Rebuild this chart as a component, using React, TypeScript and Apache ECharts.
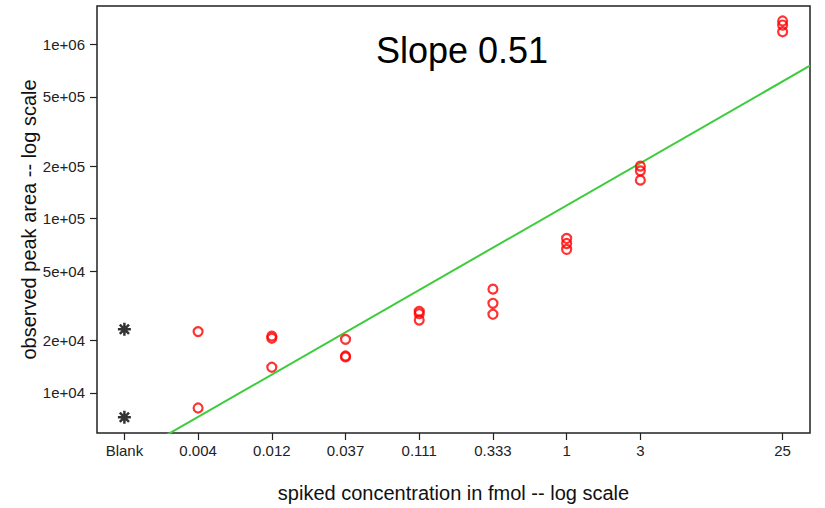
import React, { useEffect, useRef } from "react";
import * as echarts from "echarts";

// x categories (label) and their concentration positions (fmol); Blank is placed one 3-fold step left of 0.004
const xLabels = ["Blank", "0.004", "0.012", "0.037", "0.111", "0.333", "1", "3", "25"];
const xConc = [0.001372, 0.004115, 0.012346, 0.037037, 0.111111, 0.333333, 1, 3, 25];

// y tick labels
const yTickValues = [1e4, 2e4, 5e4, 1e5, 2e5, 5e5, 1e6];
const yTickLabels = ["1e+04", "2e+04", "5e+04", "1e+05", "2e+05", "5e+05", "1e+06"];

// observations
const blankValues = [23200, 7250];
const spiked004 = [22500, 8200];
const spiked012 = [21200, 20600, 14050];
const spiked037 = [20300, 16300, 16100];
const spiked111 = [29400, 28500, 26200];
const spiked333 = [39400, 32700, 28300];
const spiked1 = [77000, 72000, 66600];
const spiked3 = [200000, 188000, 166300];
const spiked25 = [1361000, 1290000, 1181000];
const spikedGroups = [spiked004, spiked012, spiked037, spiked111, spiked333, spiked1, spiked3, spiked25];

// fitted line in log10-log10 space
const fitSlope = 0.5086;
const fitIntercept = 5.0762;
const slopeText = "Slope 0.51";

// axis ranges (concentration and peak area)
const xRange = [0.000912, 37.6];
const yRange = [5895, 1659000];

const FONT = "'Liberation Sans', Arial, Helvetica, sans-serif";

export default function App() {
  const ref = useRef<HTMLDivElement>(null);
  useEffect(() => {
    if (!ref.current) return;
    const chart = echarts.init(ref.current, null, { renderer: "svg" });
    const lg = Math.log10;
    const xTickPos = xConc.map(lg);
    const yTickPos = yTickValues.map(lg);
    const nearest = (arr: number[], v: number) => {
      let bi = 0;
      let bd = Infinity;
      arr.forEach((a, i) => {
        const d = Math.abs(a - v);
        if (d < bd) {
          bd = d;
          bi = i;
        }
      });
      return bi;
    };
    const xMin = lg(xRange[0]);
    const xMax = lg(xRange[1]);
    const blankData = blankValues.map((v) => [lg(xConc[0]), lg(v)]);
    const spikedData: number[][] = [];
    spikedGroups.forEach((g, i) => g.forEach((v) => spikedData.push([lg(xConc[i + 1]), lg(v)])));
    const fitData = [xMin, xMax].map((x) => [x, fitIntercept + fitSlope * x]);

    chart.setOption({
      animation: false,
      grid: {
        left: 97,
        right: 15,
        top: 6,
        bottom: 75,
        show: true,
        borderColor: "#222",
        borderWidth: 1.5,
        backgroundColor: "transparent",
      },
      xAxis: {
        type: "value",
        min: xMin,
        max: xMax,
        splitLine: { show: false },
        axisLine: { show: false, onZero: false },
        axisTick: { show: true, customValues: xTickPos, length: 7, lineStyle: { color: "#222", width: 1.2 } },
        axisLabel: {
          customValues: xTickPos,
          margin: 10,
          fontSize: 15,
          fontFamily: FONT,
          color: "#222",
          formatter: (v: number) => xLabels[nearest(xTickPos, v)],
        },
        name: "spiked concentration in fmol -- log scale",
        nameLocation: "middle",
        nameGap: 50,
        nameMoveOverlap: false,
        nameTextStyle: { fontSize: 20, fontFamily: FONT, color: "#111" },
      },
      yAxis: {
        type: "value",
        min: lg(yRange[0]),
        max: lg(yRange[1]),
        splitLine: { show: false },
        axisLine: { show: false, onZero: false },
        axisTick: { show: true, customValues: yTickPos, length: 7, lineStyle: { color: "#222", width: 1.2 } },
        axisLabel: {
          customValues: yTickPos,
          margin: 12,
          fontSize: 15,
          fontFamily: FONT,
          color: "#222",
          formatter: (v: number) => yTickLabels[nearest(yTickPos, v)],
        },
        name: "observed peak area -- log scale",
        nameLocation: "middle",
        nameGap: 58,
        nameMoveOverlap: false,
        nameRotate: 90,
        nameTextStyle: { fontSize: 20, fontFamily: FONT, color: "#111" },
      },
      graphic: [
        {
          type: "text",
          x: 462,
          y: 68,
          style: {
            text: slopeText,
            font: `36px ${FONT}`,
            fill: "#000",
            textAlign: "center",
            textVerticalAlign: "bottom",
          },
        },
      ],
      series: [
        {
          type: "line",
          data: fitData,
          symbol: "none",
          clip: true,
          lineStyle: { color: "#3ccc3c", width: 2 },
          z: 1,
        },
        {
          type: "scatter",
          data: spikedData,
          symbol: "circle",
          symbolSize: 9,
          itemStyle: { color: "rgba(0,0,0,0)", borderColor: "#ff0000", borderWidth: 2.2 },
          z: 3,
        },
        {
          type: "scatter",
          data: blankData,
          symbol: "path://M0,-10L0,10M-10,0L10,0M-7.07,-7.07L7.07,7.07M-7.07,7.07L7.07,-7.07",
          symbolSize: 13,
          itemStyle: { color: "rgba(0,0,0,0)", borderColor: "#000", borderWidth: 2.5 },
          z: 3,
        },
      ],
    });
    return () => chart.dispose();
  }, []);
  return (
    <div
      ref={ref}
      style={{ position: "absolute", left: 0, top: 0, width: 825, height: 508 }}
    />
  );
}
